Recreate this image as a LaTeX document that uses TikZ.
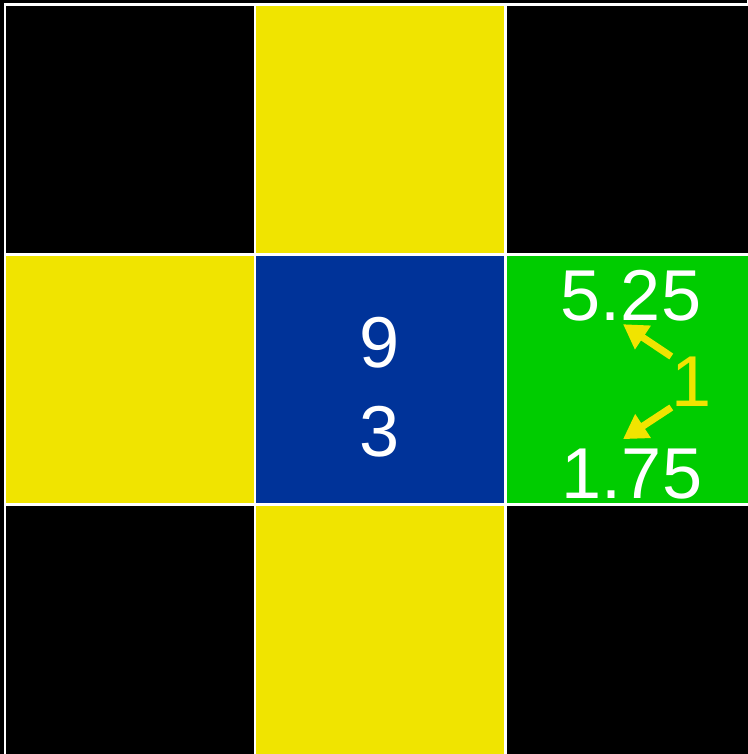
\documentclass[tikz,border=0pt]{standalone}
\usepackage{fontspec}
\setmainfont{Liberation Sans}
\usetikzlibrary{arrows.meta,positioning}
\definecolor{cellyellow}{RGB}{240,228,0}
\definecolor{cellblue}{RGB}{0,51,153}
\definecolor{cellgreen}{RGB}{0,204,0}

\begin{document}
\begin{tikzpicture}[
    value/.style={text=white,font=\fontsize{20.5}{24}\selectfont,inner sep=0pt},
    hint/.style={cellyellow,line width=2pt,-{Triangle[length=0.24cm,width=0.27cm]}}]
  \fill[black] (0,0) rectangle (7.47,7.54);
  \useasboundingbox (0,0) rectangle (7.47,7.54);
  \foreach \x/\y/\c in {0/2/black,1/2/cellyellow,2/2/black,
                        0/1/cellyellow,1/1/cellblue,2/1/cellgreen,
                        0/0/black,1/0/cellyellow,2/0/black} {
    \fill[\c] (0.05+2.5*\x,-0.01+2.5*\y) rectangle ++(2.5,2.5);
  }
  \foreach \x in {0,1,2} {
    \foreach \y in {0,1,2} {
      \draw[white,line width=0.85pt] (0.05+2.5*\x,-0.01+2.5*\y) rectangle ++(2.5,2.5);
    }
  }
  \node[value] (nine) at (3.80,4.11) {9};
  \node[value] (three) at (3.80,3.22) {3};
  \node[value] (upper) at (6.31,4.58) {5.25};
  \node[value] (lower) at (6.32,2.80) {1.75};
  \node[value,text=cellyellow] (one) at (6.92,3.72) {1};
  \draw[hint] (one.north west) -- ([xshift=-0.8mm,yshift=-0.2mm]upper.south);
  \draw[hint] (one.south west) -- ([xshift=-0.9mm,yshift=0.9mm]lower.north);
\end{tikzpicture}
\end{document}
